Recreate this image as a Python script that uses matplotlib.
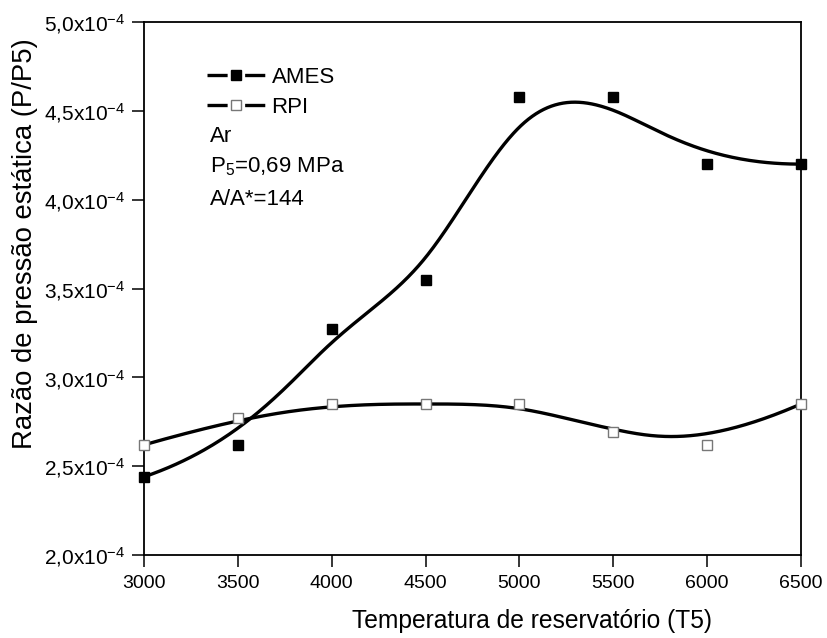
import numpy as np
import matplotlib
matplotlib.use("Agg")
import matplotlib.pyplot as plt
from matplotlib.lines import Line2D
from matplotlib.ticker import FixedLocator, FuncFormatter

plt.rcParams['font.family'] = ['Liberation Sans', 'DejaVu Sans']
plt.rcParams['mathtext.fontset'] = 'custom'
plt.rcParams['mathtext.rm'] = 'Liberation Sans'
plt.rcParams['mathtext.it'] = 'Liberation Sans'
plt.rcParams['mathtext.bf'] = 'Liberation Sans'
plt.rcParams['lines.scale_dashes'] = False

# ---- data ----
temperature = [3000, 3500, 4000, 4500, 5000, 5500, 6000, 6500]
ames = [2.44e-4, 2.62e-4, 3.27e-4, 3.55e-4, 4.58e-4, 4.58e-4, 4.20e-4, 4.20e-4]
rpi = [2.62e-4, 2.77e-4, 2.85e-4, 2.85e-4, 2.85e-4, 2.69e-4, 2.62e-4, 2.85e-4]
series_names = ["AMES", "RPI"]
x_ticks = [3000, 3500, 4000, 4500, 5000, 5500, 6000, 6500]
y_ticks = [2.0e-4, 2.5e-4, 3.0e-4, 3.5e-4, 4.0e-4, 4.5e-4, 5.0e-4]
annotations = ["Ar", "P$_5$=0,69 MPa", "A/A*=144"]


def bspline(cx, cy, k=3, n=500):
    cx = np.asarray(cx, float)
    cy = np.asarray(cy, float)
    m = len(cx)
    t = np.concatenate([np.zeros(k), np.arange(m - k + 1), np.full(k, m - k)]).astype(float)
    u = np.linspace(0, m - k, n)
    u[-1] -= 1e-9
    N = np.zeros((len(t) - 1, n))
    for i in range(len(t) - 1):
        N[i] = ((t[i] <= u) & (u < t[i + 1])).astype(float)
    for d in range(1, k + 1):
        Nn = np.zeros((len(t) - 1 - d, n))
        for i in range(len(t) - 1 - d):
            a = np.zeros(n)
            b = np.zeros(n)
            den1 = t[i + d] - t[i]
            den2 = t[i + d + 1] - t[i + 1]
            if den1 > 0:
                a = (u - t[i]) / den1 * N[i]
            if den2 > 0:
                b = (t[i + d + 1] - u) / den2 * N[i + 1]
            Nn[i] = a + b
        N = Nn
    return N.T @ cx, N.T @ cy


fig = plt.figure(figsize=(8.28, 6.38), dpi=100)
ax = fig.add_axes([144 / 828, 1 - 555 / 638, (801 - 144) / 828, (555 - 22) / 638])

for vals, face in [(ames, 'black'), (rpi, 'white')]:
    sx, sy = bspline(temperature, vals)
    ax.plot(sx, sy, color='black', lw=2.4, zorder=2)
    ax.plot(temperature, vals, ls='none', marker='s', ms=7,
            mfc=face, mec='black' if face == 'black' else '#777777', mew=1.0,
            zorder=3, clip_on=False)

ax.set_xlim(3000, 6500)
ax.set_ylim(2.0e-4, 5.0e-4)
ax.xaxis.set_major_locator(FixedLocator(x_ticks))
ax.yaxis.set_major_locator(FixedLocator(y_ticks))


def yfmt(v, pos):
    s = f"{v * 1e4:.1f}".replace('.', ',')
    return s + "x10$^{-4}$"


ax.yaxis.set_major_formatter(FuncFormatter(yfmt))
ax.tick_params(axis='both', direction='out', length=8.5, width=1.1,
               colors='black', pad=6)
ax.tick_params(axis='x', labelsize=14)
ax.tick_params(axis='y', labelsize=15, pad=5)
for sp in ax.spines.values():
    sp.set_linewidth(1.3)

ax.set_xlabel("Temperatura de reservatório (T5)", fontsize=17.7)
ax.xaxis.set_label_coords(0.59, -0.102)
ax.set_ylabel("Razão de pressão estática (P/P5)", fontsize=19.8)
ax.yaxis.set_label_coords(-0.162, 0.585)

dash = (0, (14.5, 12.6))
handles = [
    Line2D([], [], color='black', lw=2.4, ls=dash, marker='s', ms=7,
           mfc='black', mec='black'),
    Line2D([], [], color='black', lw=2.4, ls=dash, marker='s', ms=7,
           mfc='white', mec='#777777'),
]
leg = ax.legend(handles, series_names, loc='upper left', bbox_to_anchor=(0.079, 0.936),
                frameon=False, fontsize=16, handlelength=2.6, handletextpad=0.3,
                labelspacing=0.4, borderpad=0, numpoints=1)

ys = [0.786, 0.729, 0.667]
for txt, yy in zip(annotations, ys):
    ax.text(0.100, yy, txt, transform=ax.transAxes, fontsize=16, va='center', ha='left')

fig.savefig("out.png", dpi=100)
